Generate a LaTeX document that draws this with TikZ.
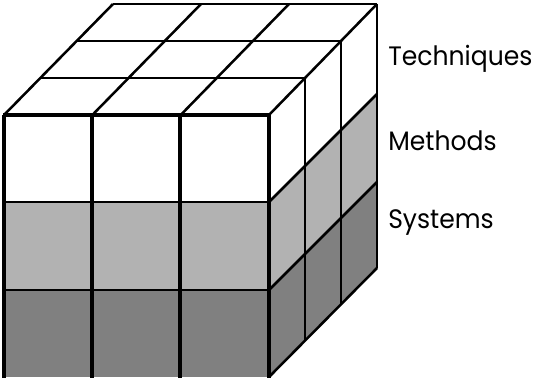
\documentclass[tikz,border=0pt]{standalone}
\usepackage{fontspec}
\setmainfont[FakeStretch=0.94]{Poppins}
\definecolor{midgray}{gray}{0.7}
\definecolor{darkgray2}{gray}{0.5}
\tikzset{
  cubeline/.style={draw=black,line width=1.9pt,line join=miter},
  frontline/.style={draw=black,line width=2.4pt,line join=miter},
  toplabel/.style={anchor=base west,inner sep=0pt,font=\fontsize{20}{22}\selectfont,text=black}
}
\begin{document}
\begin{tikzpicture}[x=0.75pt,y=-0.75pt]
\useasboundingbox (0,0) rectangle (535,378);
% layer fills: front and side
\fill[white] (4,115) rectangle (269,202);
\fill[midgray] (4,202) rectangle (269,290);
\fill[darkgray2] (4,290) rectangle (269,377);
\fill[midgray] (269,202) -- (377,94) -- (377,182) -- (269,290) -- cycle;
\fill[darkgray2] (269,290) -- (377,182) -- (377,268) -- (269,377) -- cycle;
% top face grid
\foreach \i in {0,1,2,3} {
  \draw[cubeline] ({4+88.33*\i},115) -- ({113+88*\i},4);
  \draw[cubeline] ({4+36.33*\i},{115-37*\i}) -- ({269+36*\i},{115-37*\i});
}
% side face grid
\foreach \i in {1,2,3} {
  \draw[cubeline] ({269+36*\i},{115-37*\i}) -- ({269+36*\i},{377-36.33*\i});
}
\draw[cubeline] (269,202) -- (377,94);
\draw[cubeline] (269,290) -- (377,182);
\draw[cubeline] (269,377) -- (377,268);
% front face grid
\foreach \x in {4,92,180,269} {
  \draw[frontline] (\x,115) -- (\x,378);
}
\draw[frontline] (3,115) -- (270,115);
\foreach \y in {202,290} {
  \draw[cubeline] (4,\y) -- (269,\y);
}
% labels
\node[toplabel] (techniques) at (388,65) {Techniques};
\node[toplabel] (methods) at (388,150) {Methods};
\node[toplabel] (systems) at (388,228) {Systems};
\end{tikzpicture}
\end{document}
